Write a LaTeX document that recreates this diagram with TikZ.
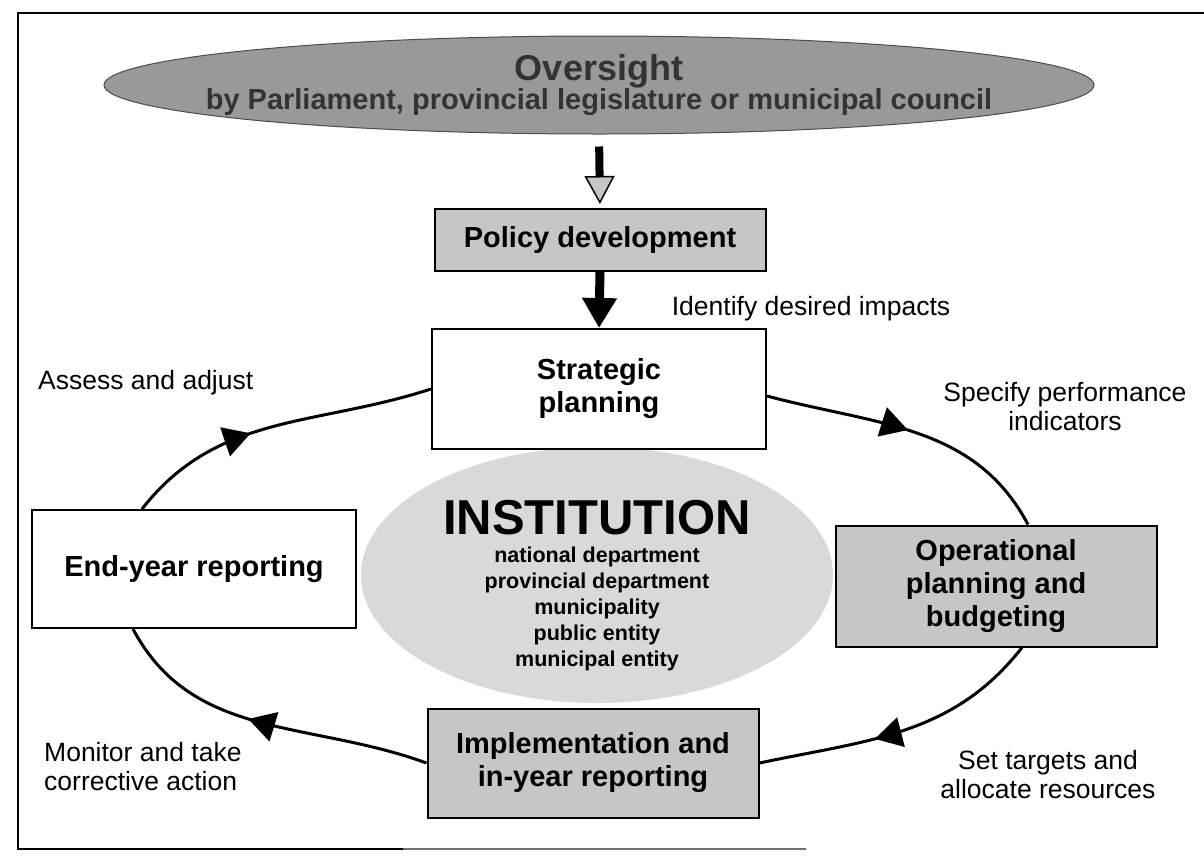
\documentclass[tikz,border=0pt]{standalone}
\usepackage{fontspec}
\setmainfont{Liberation Sans}
\usetikzlibrary{shapes.geometric,arrows.meta,decorations.markings}

\tikzset{
  box/.style={draw=black, line width=2pt, fill=white, minimum width=331pt,
    align=center, inner sep=0pt, font=\bfseries\fontsize{29}{33}\selectfont},
  greybox/.style={box, fill=gray!45},
  lbl/.style={align=center, inner sep=0pt, font=\fontsize{26.5}{29}\selectfont},
  cyc/.style={line width=3pt, postaction={decorate},
    decoration={markings, mark=at position #1 with {\arrow{Triangle[width=30pt,length=27pt]}}}}
}

\begin{document}
\begin{tikzpicture}[x=1pt,y=1pt]
	\useasboundingbox (0,0) rectangle (1204,-855);
	% frame
	\draw [line width=2.5pt] (1204,-13) -- (18,-13) -- (18,-849) -- (403,-849);
	\draw [line width=1.2pt, black!55] (403,-849) -- (806,-849);
	% oversight
	\node [ellipse, draw=gray!60!black, line width=1pt, fill=gray!80, minimum width=990pt, minimum height=98pt] (oversight) at (599,-85) {};
	\node [font=\bfseries\fontsize{36}{38}\selectfont, text=black!80, inner sep=0pt] (ovtitle) at (599,-71) {Oversight};
	\node [font=\bfseries\fontsize{29}{31}\selectfont, text=black!80, inner sep=0pt] (ovsub) at (599,-102) {by Parliament, provincial legislature or municipal council};
	% institution
	\node [ellipse, fill=gray!30, minimum width=472pt, minimum height=256pt] (inst) at (597,-575) {};
	\node [font=\bfseries\fontsize{49}{50}\selectfont, inner sep=0pt] (insttitle) at (597,-518) {INSTITUTION};
	\node [font=\bfseries\fontsize{21.5}{26}\selectfont, align=center, inner sep=0pt] (instlist) at (597,-609) {national department\\provincial department\\municipality\\public entity\\municipal entity};
	% boxes
	\node [greybox, minimum height=62pt] (policy) at (600,-240) {Policy development};
	\node [box, minimum width=334pt, minimum height=120pt] (strat) at (599,-389) {Strategic\\planning};
	\node [box, minimum width=324pt, minimum height=118pt] (endyear) at (194,-569) {End-year reporting};
	\node [greybox, minimum width=321pt, minimum height=121pt] (oper) at (996,-586) {Operational\\planning and\\budgeting};
	\node [greybox, minimum height=109pt] (impl) at (593,-763) {Implementation and\\in-year reporting};
	% labels
	\node [lbl] (identify) at (811,-309) {Identify desired impacts};
	\node [lbl, anchor=west] (assess) at (38,-383) {Assess and adjust};
	\node [lbl] (specify) at (1065,-407) {Specify performance\\indicators};
	\node [lbl, anchor=west, align=left] (monitor) at (44,-767) {Monitor and take\\corrective action};
	\node [lbl] (settarg) at (1048,-775) {Set targets and\\allocate resources};
	% arrows
	\draw [line width=8pt, shorten <=12pt, shorten >=4pt, -{Triangle[width=30pt,length=28pt,fill=gray!45,line width=1.5pt]}] (oversight.south) -- (policy.north);
	\draw [line width=9pt, -{Triangle[width=33pt,length=30pt]}] (policy.south) -- (strat.north);
	% cycle
	\draw [cyc=0.48] ([yshift=-7pt]strat.east) to[out=-15, in=118] ([xshift=32pt]oper.north);
	\draw [cyc=0.6] ([xshift=26pt]oper.south) to[out=-128, in=12] (impl.east);
	\draw [cyc=0.55] (impl.west) to[out=160, in=-62] ([xshift=-61pt]endyear.south);
	\draw [cyc=0.42] ([xshift=-52pt]endyear.north) to[out=52, in=-162] (strat.west);
\end{tikzpicture}
\end{document}
